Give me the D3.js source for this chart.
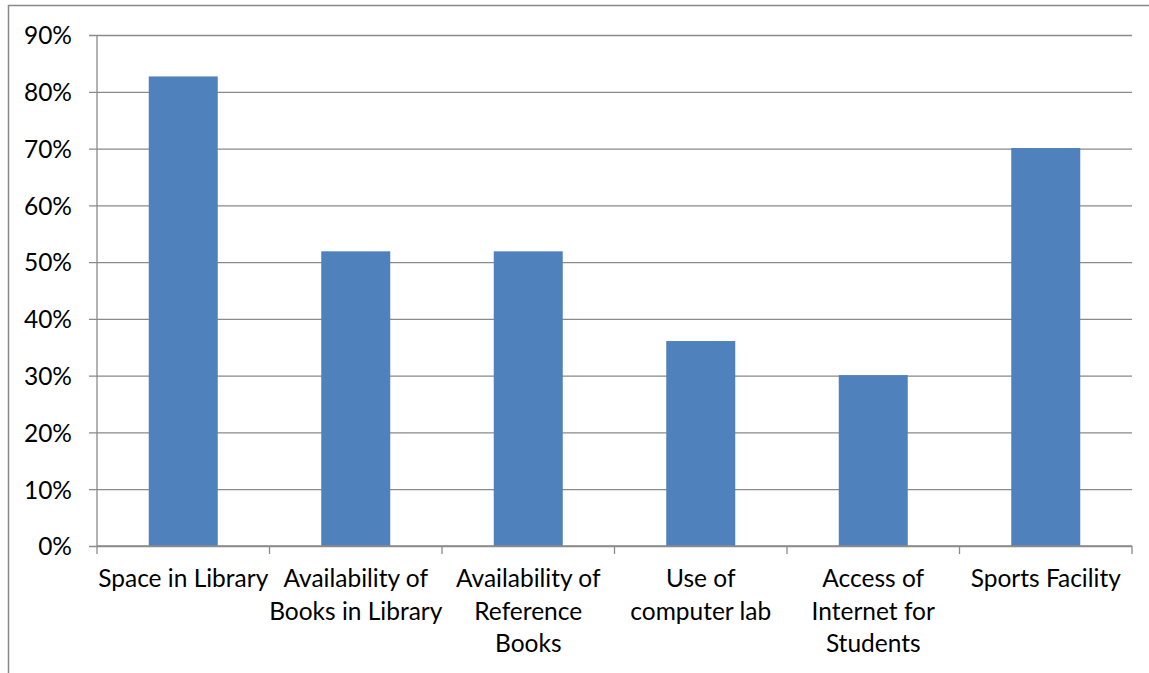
<!DOCTYPE html>
<html>
<head>
<meta charset="utf-8">
<script src="https://cdn.jsdelivr.net/npm/d3@7"></script>
<style>
  html, body { margin: 0; padding: 0; background: #fff; }
  svg { display: block; }
  text { font-family: Lato, "Open Sans", sans-serif; fill: #000; }
</style>
</head>
<body>
<svg id="chart" width="1149" height="673"></svg>
<script>
// Facility ratings (share of respondents)
const categories = [
  "Space in Library",
  "Availability of Books in Library",
  "Availability of Reference Books",
  "Use of computer lab",
  "Access of Internet for Students",
  "Sports Facility"
];
// line breaks used for the category labels
const categoryLines = [
  ["Space in Library"],
  ["Availability of", "Books in Library"],
  ["Availability of", "Reference", "Books"],
  ["Use of", "computer lab"],
  ["Access of", "Internet for", "Students"],
  ["Sports Facility"]
];
const values = [0.827, 0.519, 0.519, 0.361, 0.301, 0.701];
const yTicks = [0, 0.1, 0.2, 0.3, 0.4, 0.5, 0.6, 0.7, 0.8, 0.9];

const svg = d3.select("#chart");
const W = 1149, H = 673;
const plot = { left: 97, right: 1132, top: 35, bottom: 546 };
const fontSize = "24.5px";

// outer chart frame
svg.append("rect")
  .attr("x", 8.5).attr("y", 5.5)
  .attr("width", W + 10).attr("height", H + 10)
  .attr("fill", "none").attr("stroke", "#888").attr("stroke-width", 1.5);

const x = d3.scaleBand()
  .domain(categories)
  .range([plot.left, plot.right])
  .paddingInner(0.6).paddingOuter(0.3);

const y = d3.scaleLinear()
  .domain([0, 0.9])
  .range([plot.bottom, plot.top]);

// horizontal gridlines with outward ticks
const gy = svg.append("g").attr("transform", `translate(${plot.left},0)`);
gy.call(d3.axisLeft(y).tickValues(yTicks).tickFormat(d3.format(".0%"))
    .tickSize(-(plot.right - plot.left)).tickPadding(0))
  .call(g => g.select(".domain").remove());
gy.selectAll(".tick line")
  .attr("x1", -8)
  .attr("stroke", "#8a8a8a").attr("stroke-width", 1.3);
gy.selectAll(".tick text")
  .attr("x", -25)
  .attr("dy", "0.36em")
  .style("font-size", fontSize);

// vertical axis line
svg.append("line")
  .attr("x1", plot.left).attr("x2", plot.left)
  .attr("y1", plot.top).attr("y2", plot.bottom)
  .attr("stroke", "#8a8a8a").attr("stroke-width", 1.3);

// bars
svg.append("g").selectAll("rect")
  .data(categories)
  .join("rect")
  .attr("x", d => x(d))
  .attr("width", x.bandwidth())
  .attr("y", (d, i) => y(values[i]))
  .attr("height", (d, i) => y(0) - y(values[i]))
  .attr("fill", "#4f81bd");

// category axis with boundary ticks
const step = x.step();
const boundaries = d3.range(categories.length + 1).map(i => plot.left + i * step);
svg.append("line")
  .attr("x1", plot.left).attr("x2", plot.right)
  .attr("y1", plot.bottom).attr("y2", plot.bottom)
  .attr("stroke", "#8a8a8a").attr("stroke-width", 1.3);
svg.append("g").selectAll("line")
  .data(boundaries)
  .join("line")
  .attr("x1", d => d).attr("x2", d => d)
  .attr("y1", plot.bottom).attr("y2", plot.bottom + 8)
  .attr("stroke", "#8a8a8a").attr("stroke-width", 1.3);

// category labels
svg.append("g").selectAll("text")
  .data(categories)
  .join("text")
  .attr("text-anchor", "middle")
  .style("font-size", fontSize)
  .each(function (d, i) {
    const cx = x(d) + x.bandwidth() / 2;
    d3.select(this).selectAll("tspan")
      .data(categoryLines[i])
      .join("tspan")
      .attr("x", cx)
      .attr("y", (l, j) => 587 + j * 32.5)
      .text(l => l);
  });
</script>
</body>
</html>
